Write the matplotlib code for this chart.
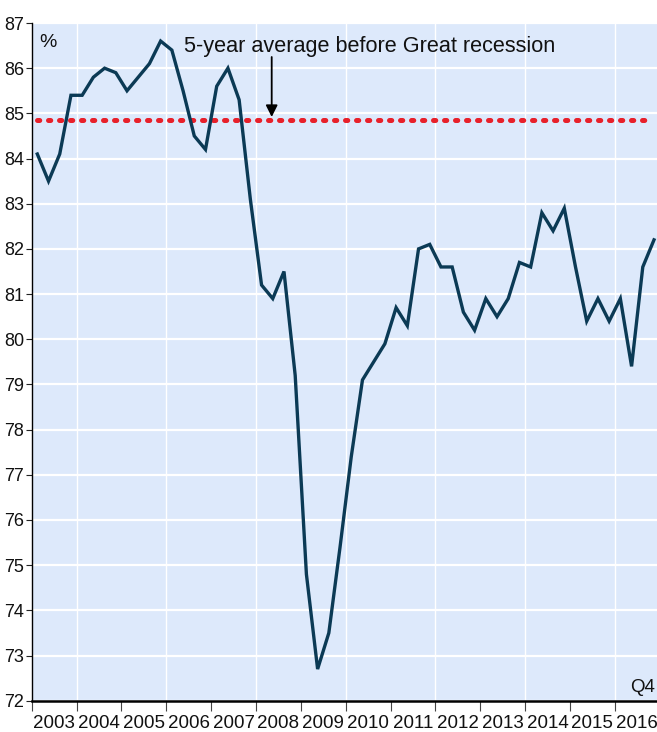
import matplotlib
matplotlib.use("Agg")
import matplotlib.pyplot as plt
import numpy as np

# Quarterly values 2003Q1 - 2016Q4 (%)
years = list(range(2003, 2017))
values = [
    84.1, 83.5, 84.1, 85.4,   # 2003
    85.4, 85.8, 86.0, 85.9,   # 2004
    85.5, 85.8, 86.1, 86.6,   # 2005
    86.4, 85.5, 84.5, 84.2,   # 2006
    85.6, 86.0, 85.3, 83.1,   # 2007
    81.2, 80.9, 81.5, 79.2,   # 2008
    74.8, 72.7, 73.5, 75.4,   # 2009
    77.4, 79.1, 79.5, 79.9,   # 2010
    80.7, 80.3, 82.0, 82.1,   # 2011
    81.6, 81.6, 80.6, 80.2,   # 2012
    80.9, 80.5, 80.9, 81.7,   # 2013
    81.6, 82.8, 82.4, 82.9,   # 2014
    81.6, 80.4, 80.9, 80.4,   # 2015
    80.9, 79.4, 81.6, 82.2,   # 2016
]
avg_before_recession = 84.85
y_ticks = list(range(72, 88))
annotation_text = "5-year average before Great recession"
unit_label = "%"
end_label = "Q4"

n = len(values)
x = np.array([years[0] + (i + 0.5) / 4 for i in range(n)])

W, H = 657, 732
fig = plt.figure(figsize=(W / 100, H / 100), dpi=100)
left_px, top_px, bottom_px = 31.7, 23.0, 700.7
year_px = 44.85
unit_px = (bottom_px - top_px) / 15
ax = fig.add_axes([left_px / W, 1 - bottom_px / H, 1 - left_px / W, (bottom_px - top_px) / H])
ax.set_facecolor("#dde9fb")

xmin = 2003
xmax = 2003 + (W - left_px) / year_px
ax.set_xlim(xmin, xmax)
ax.set_ylim(72, 87)

def px2x(px):
    return 2003 + (px - left_px) / year_px

def px2y(py):
    return 87 - (py - top_px) / unit_px

# grid
for yv in y_ticks:
    ax.axhline(yv, color="white", lw=1.6, zorder=1)
for yr in range(2004, 2017, 2):
    ax.axvline(yr, color="white", lw=1.0, zorder=1)

# average line
ax.plot([x[0], x[-1] - 0.03], [avg_before_recession] * 2, color="#e8202a", lw=3.6,
        linestyle=(0, (0.45, 1.75)), dash_capstyle="round", zorder=2)

# main series
ax.plot(x, values, color="#0b3a55", lw=2.4, zorder=3, solid_joinstyle="miter")

# annotation
font_main = ["Liberation Sans", "DejaVu Sans"]
font_narrow = ["Liberation Sans Narrow", "Liberation Sans", "DejaVu Sans"]
ax.text(px2x(184), px2y(52), annotation_text,
        fontsize=15.6, family=font_main, ha="left", va="baseline", color="#111111", zorder=4)
ax.annotate("", xy=(px2x(271.7), px2y(117)), xytext=(px2x(271.7), px2y(57)),
            arrowprops=dict(arrowstyle="-|>,head_length=0.7,head_width=0.35", color="black", lw=1.3,
                            shrinkA=0, shrinkB=0), zorder=4)
ax.text(px2x(39), px2y(47), unit_label,
        fontsize=14, family=font_main, ha="left", va="baseline", color="#111111", zorder=4)
ax.text(px2x(630), px2y(692), end_label,
        fontsize=13.5, family=font_main, ha="left", va="baseline", color="#111111", zorder=4)

# spines
for s in ["top", "right"]:
    ax.spines[s].set_visible(False)
ax.spines["left"].set_linewidth(1.0)
ax.spines["bottom"].set_linewidth(1.8)
ax.spines["left"].set_zorder(5)
ax.spines["bottom"].set_zorder(5)

# y ticks
ax.set_yticks(y_ticks)
ax.set_yticklabels([str(v) for v in y_ticks], family=font_narrow, fontsize=13)
ax.tick_params(axis="y", direction="out", length=4, width=0.8, pad=1.5, colors="#222222",
               labelcolor="#111111")

# x ticks: major at year boundaries, labels at mid-year
ax.set_xticks(list(range(2003, 2017)))
ax.set_xticklabels([])
ax.set_xticks([yr + 0.5 for yr in years], minor=True)
ax.set_xticklabels([str(yr) for yr in years], minor=True, family=font_narrow, fontsize=13.5)
ax.tick_params(axis="x", which="major", direction="out", length=7, width=0.8, colors="#444444")
ax.tick_params(axis="x", which="minor", length=0, pad=10, labelcolor="#111111")

fig.savefig("out.png", dpi=100)
